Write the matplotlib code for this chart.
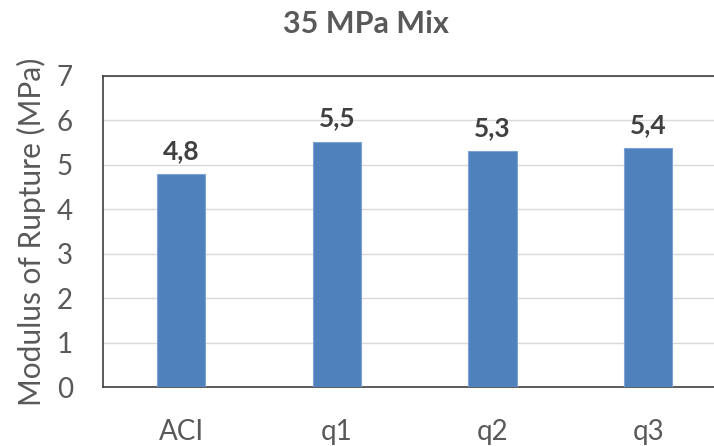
import numpy as np
import matplotlib
matplotlib.use("Agg")
import matplotlib.pyplot as plt

# data
categories = ["ACI", "q1", "q2", "q3"]
mor = [4.79, 5.52, 5.30, 5.37]
labels = ["4,8", "5,5", "5,3", "5,4"]
yticks = [0, 1, 2, 3, 4, 5, 6, 7]

plt.rcParams['font.family'] = ['Lato', 'DejaVu Sans']
grey = '#595959'

fig = plt.figure(figsize=(7.14, 4.46), dpi=100)
# plot area runs a bit past the right edge of the picture, like the source
ax = fig.add_axes([0.1447, 0.1316, 0.872, 0.6987])

x = np.arange(len(categories))
bars = ax.bar(x, mor, width=0.31, color='#4F81BD', edgecolor='#7BA3D6',
              linewidth=0.8, zorder=3)

for b, lab in zip(bars, labels):
    ax.annotate(lab, (b.get_x() + b.get_width() / 2, b.get_height()),
                xytext=(0, 8), textcoords='offset points',
                ha='center', va='bottom', fontsize=19, fontweight='bold',
                color='#404040')

ax.set_xlim(-0.5, len(categories) - 0.5)
ax.set_ylim(0, 7)
ax.set_yticks(yticks)
ax.set_xticks(x)
ax.set_xticklabels(categories)
ax.yaxis.grid(True, color='#D9D9D9', linewidth=1, zorder=0)
ax.tick_params(axis='both', length=0, labelsize=20, colors=grey)
ax.tick_params(axis='x', pad=23)
ax.tick_params(axis='y', pad=22)
for s in ax.spines.values():
    s.set_color('#404040')
    s.set_linewidth(1.2)

ax.set_ylabel('Modulus of Rupture (MPa)', fontsize=21.5, color=grey, labelpad=8)
fig.text(0.513, 0.946, '35 MPa Mix', ha='center', va='center',
         fontsize=22, fontweight='bold', color=grey)

fig.savefig('out.png', dpi=100)
